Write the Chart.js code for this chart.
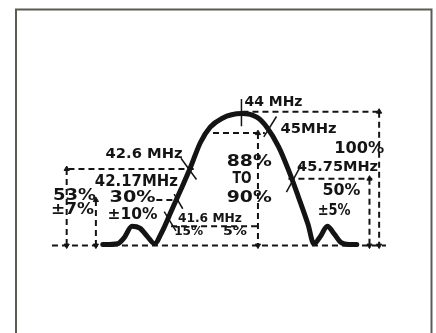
<!DOCTYPE html>
<html>
<head>
<meta charset="utf-8">
<script src="https://cdn.jsdelivr.net/npm/chart.js@4"></script>
<style>
  html, body { margin: 0; padding: 0; background: #fff; }
  #wrap { width: 436px; height: 333px; }
</style>
</head>
<body>
<div id="wrap"><canvas id="ifChart" width="436" height="333"></canvas></div>
<script>
// Respuesta de FI (frecuencia en MHz, esquemática; nivel en %)
const freqMHz = [38.54, 39.12, 39.38, 39.69, 40.0, 40.31, 40.58, 40.85, 41.23, 41.62, 42.0, 42.38, 42.77, 43.23, 44.0, 44.62, 45.0, 45.46, 45.85, 46.23, 46.62, 46.85, 47.12, 47.38, 47.65, 47.92, 48.23, 48.54];
const responsePct = [0.7, 1.4, 5.8, 14.5, 13.0, 6.5, 1.4, 9.4, 25.4, 42, 58.7, 76.8, 88.4, 95, 98.6, 95.7, 88.4, 73.9, 56.5, 37, 15.9, 1.4, 7.2, 14.5, 8.7, 2.2, 0.7, 0.7];

// Niveles de referencia (%)
const levelTop = 100, level88 = 84, level53 = 57.2, level50 = 50, level30 = 34, level15 = 14.5;

// Líneas de cota discontinuas: [x1, y1, x2, y2]
const guideLines = [
  [36.54, 0, 49.69, 0],
  [44.04, levelTop, 49.42, levelTop],
  [45.85, level50, 49.15, level50],
  [42.88, level88, 44.92, level88],
  [37.19, level53, 42.12, level53],
  [40.65, level30, 41.54, level30],
  [41.23, level15, 44.65, level15]
];
// Cotas verticales con flechas: [x, yArriba]
const dimArrows = [
  [49.42, levelTop],
  [49.04, level50],
  [44.65, level88],
  [37.12, level53],
  [38.27, level30]
];
// Marcas cortas sobre la curva: [x1, y1, x2, y2]
const markTicks = [
  [44.0, 109.4, 44.0, 89.1],
  [45.38, 96.4, 44.88, 81.2],
  [46.35, 60.1, 45.77, 39.9],
  [41.62, 65.2, 42.23, 49.3],
  [41.35, 38.4, 41.69, 27.5],
  [40.96, 25.4, 41.42, 10.9]
];

// Textos: [texto, x, y, tamaño, ancho]
const labels = [
  ['44 MHz', 44.12, 107.2, 14, 58],
  ['45MHz', 45.54, 87, 14, 56],
  ['100%', 47.65, 71.7, 15, 50],
  ['45.75MHz', 46.19, 58.7, 14, 81],
  ['50%', 47.19, 40.6, 15, 38],
  ['±5%', 47.0, 25.4, 15, 33],
  ['42.6 MHz', 38.65, 68.1, 14, 77],
  ['88%', 43.42, 62.3, 16, 45],
  ['TO', 43.65, 49.3, 15, 19],
  ['90%', 43.42, 35.5, 16, 45],
  ['42.17MHz', 38.23, 47.1, 15, 83],
  ['53%', 36.58, 37, 16, 43],
  ['±7%', 36.5, 26.8, 16, 43],
  ['30%', 38.81, 35.5, 16, 46],
  ['±10%', 38.73, 22.5, 15, 50],
  ['41.6 MHz', 41.5, 20.3, 13, 64],
  ['15%', 41.35, 10.1, 13, 29],
  ['5%', 43.27, 10.1, 13, 24]
];

const ink = '#141414';
const datasets = [];

datasets.push({
  data: freqMHz.map((f, i) => ({ x: f, y: responsePct[i] })),
  showLine: true,
  borderColor: ink,
  borderWidth: 5,
  pointRadius: 0,
  cubicInterpolationMode: 'monotone',
  borderCapStyle: 'round',
  order: 0
});

guideLines.forEach(s => {
  datasets.push({
    data: [{ x: s[0], y: s[1] }, { x: s[2], y: s[3] }],
    showLine: true,
    borderColor: ink,
    borderWidth: 2,
    borderDash: [6, 4],
    pointRadius: 0,
    order: 2
  });
});

dimArrows.forEach(a => {
  datasets.push({
    data: [{ x: a[0], y: a[1] }, { x: a[0], y: 0 }],
    showLine: true,
    borderColor: ink,
    borderWidth: 2,
    borderDash: [6, 4],
    pointStyle: 'triangle',
    pointRadius: 3,
    pointRotation: [0, 180],
    pointBackgroundColor: ink,
    pointBorderColor: ink,
    pointBorderWidth: 1,
    order: 2
  });
});

markTicks.forEach(t => {
  datasets.push({
    data: [{ x: t[0], y: t[1] }, { x: t[2], y: t[3] }],
    showLine: true,
    borderColor: ink,
    borderWidth: 1.5,
    pointRadius: 0,
    order: 1
  });
});

// Marco y textos dibujados sobre el gráfico
const framePlugin = {
  id: 'framePlugin',
  afterDraw(chart) {
    const c = chart.ctx;
    const xs = chart.scales.x, ys = chart.scales.y;
    c.save();
    c.strokeStyle = '#5b5b52';
    c.lineWidth = 2;
    c.beginPath();
    c.moveTo(16, 340);
    c.lineTo(16, 9.5);
    c.lineTo(431.5, 9.5);
    c.lineTo(431.5, 340);
    c.stroke();

    c.fillStyle = ink;
    c.textBaseline = 'middle';
    c.textAlign = 'left';
    labels.forEach(l => {
      c.font = 'bold ' + l[3] + 'px "DejaVu Sans"';
      const w = c.measureText(l[0]).width;
      const px = xs.getPixelForValue(l[1]);
      const py = ys.getPixelForValue(l[2]);
      c.save();
      c.translate(px, py);
      c.scale(l[4] / w, 1);
      c.fillText(l[0], 0, 0);
      c.restore();
    });
    c.restore();
  }
};

new Chart(document.getElementById('ifChart').getContext('2d'), {
  type: 'scatter',
  data: { datasets: datasets },
  options: {
    responsive: false,
    animation: false,
    layout: { padding: 0 },
    scales: {
      x: { type: 'linear', display: false, min: 34.692, max: 51.462 },
      y: { type: 'linear', display: false, min: -61.59, max: 179.71 }
    },
    plugins: {
      legend: { display: false },
      tooltip: { enabled: false }
    }
  },
  plugins: [framePlugin]
});
</script>
</body>
</html>
